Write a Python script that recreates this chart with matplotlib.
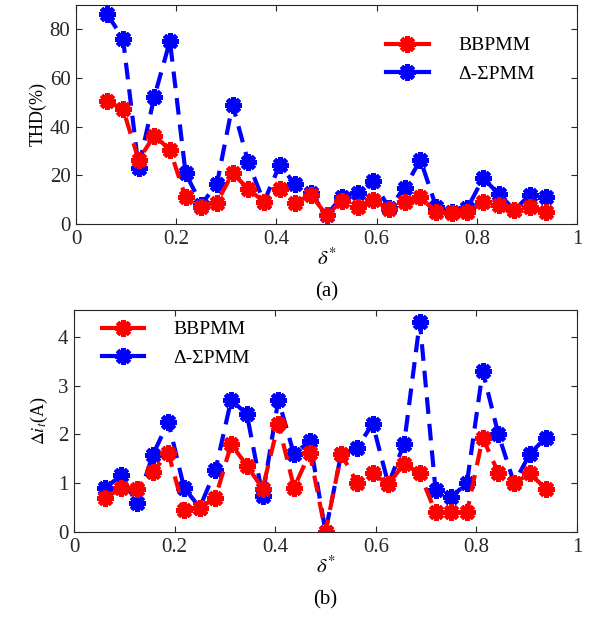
import numpy as np
import matplotlib
matplotlib.use("Agg")
import matplotlib.pyplot as plt
from matplotlib.lines import Line2D

plt.rcParams['font.family'] = ['Liberation Serif', 'DejaVu Serif']
plt.rcParams['mathtext.fontset'] = 'stix'

delta = [k / 32 for k in range(2, 31)]

thd_bb = [50.4, 47.3, 26.4, 36.3, 30.5, 11.0, 7.1, 8.8, 20.9, 14.4, 9.2, 14.3, 8.8, 12.0,
          3.7, 9.5, 7.1, 9.9, 6.0, 9.2, 11.0, 4.8, 4.4, 4.8, 8.9, 7.8, 5.8, 7.1, 5.1]
thd_ds = [86.2, 76.2, 23.2, 52.2, 75.2, 20.9, 8.0, 16.4, 49.1, 25.4, 9.0, 24.1, 16.4, 12.6,
          3.7, 11.3, 12.9, 17.5, 6.5, 15.0, 26.4, 7.1, 4.8, 6.5, 18.8, 12.4, 5.8, 12.0, 11.0]

di_bb = [0.69, 0.91, 0.89, 1.23, 1.62, 0.45, 0.50, 0.70, 1.80, 1.36, 0.89, 2.22, 0.91, 1.62,
         0.0, 1.60, 1.01, 1.20, 0.98, 1.40, 1.20, 0.40, 0.40, 0.40, 1.93, 1.21, 1.00, 1.20, 0.89]
di_ds = [0.91, 1.16, 0.59, 1.57, 2.26, 0.91, 0.50, 1.27, 2.71, 2.41, 0.74, 2.71, 1.59, 1.87,
         0.01, 1.60, 1.72, 2.22, 0.98, 1.81, 4.31, 0.86, 0.71, 1.01, 3.30, 2.00, 1.00, 1.60, 1.93]

labels = ['BBPMM', 'Δ-ΣPMM']
W, H = 597, 617
fig = plt.figure(figsize=(W / 100, H / 100), dpi=100)

ax1 = fig.add_axes([76 / W, 1 - 224 / H, (577 - 76) / W, (224 - 5) / H])
ax2 = fig.add_axes([74 / W, 1 - 532 / H, (577 - 74) / W, (532 - 310) / H])

AST = (8, 2, 0)
mk = dict(marker=AST, markersize=12, markeredgewidth=3.5, linewidth=3,
          linestyle=(0, (4, 2.4)))

for ax, yb, yd in [(ax1, thd_bb, thd_ds), (ax2, di_bb, di_ds)]:
    ax.plot(delta, yd, color='#0000ff', markerfacecolor='#0000ff', markeredgecolor='#0000ff', **mk)
    ax.plot(delta, yb, color='#ff0000', markerfacecolor='#ff0000', markeredgecolor='#ff0000', **mk)
    ax.set_xlim(0, 1)
    ax.set_xticks([0, 0.2, 0.4, 0.6, 0.8, 1])
    ax.set_xticklabels(['0', '0.2', '0.4', '0.6', '0.8', '1'])
    ax.tick_params(direction='in', labelsize=15, length=4, width=0.8, top=True, right=True,
                   colors='#262626', labelcolor='#262626', pad=4)
    for s in ax.spines.values():
        s.set_color('#262626')
        s.set_linewidth(0.8)
    ax.set_xlabel(r'$\delta^{*}$', fontsize=15, labelpad=0)

ax1.set_ylim(0, 90)
ax1.set_yticks([0, 20, 40, 60, 80])
ax1.set_ylabel('THD(%)', fontsize=13, labelpad=2)
ax2.set_ylim(0, 4.55)
ax2.set_yticks([0, 1, 2, 3, 4])
ax2.set_ylabel(r'$\Delta i_t$(A)', fontsize=13, labelpad=6)

hk = dict(marker=AST, markersize=12, markeredgewidth=3.5, linewidth=3)
handles = [Line2D([], [], color='#ff0000', **hk),
           Line2D([], [], color='#0000ff', **hk)]
ax1.legend(handles, labels, loc='upper right', bbox_to_anchor=(0.95, 0.935), frameon=False,
           fontsize=14, handlelength=2.2, labelspacing=0.55, handletextpad=1.5)
ax2.legend(handles, labels, loc='upper left', bbox_to_anchor=(0.02, 1.03), frameon=False,
           fontsize=14, handlelength=2.2, labelspacing=0.55, handletextpad=1.5)

fig.text(ax1.get_position().x0 + ax1.get_position().width / 2, 1 - 292 / H, '(a)',
         ha='center', va='center', fontsize=15)
fig.text(ax2.get_position().x0 + ax2.get_position().width / 2, 1 - 600 / H, '(b)',
         ha='center', va='center', fontsize=15)

fig.savefig('out.png', dpi=100)
